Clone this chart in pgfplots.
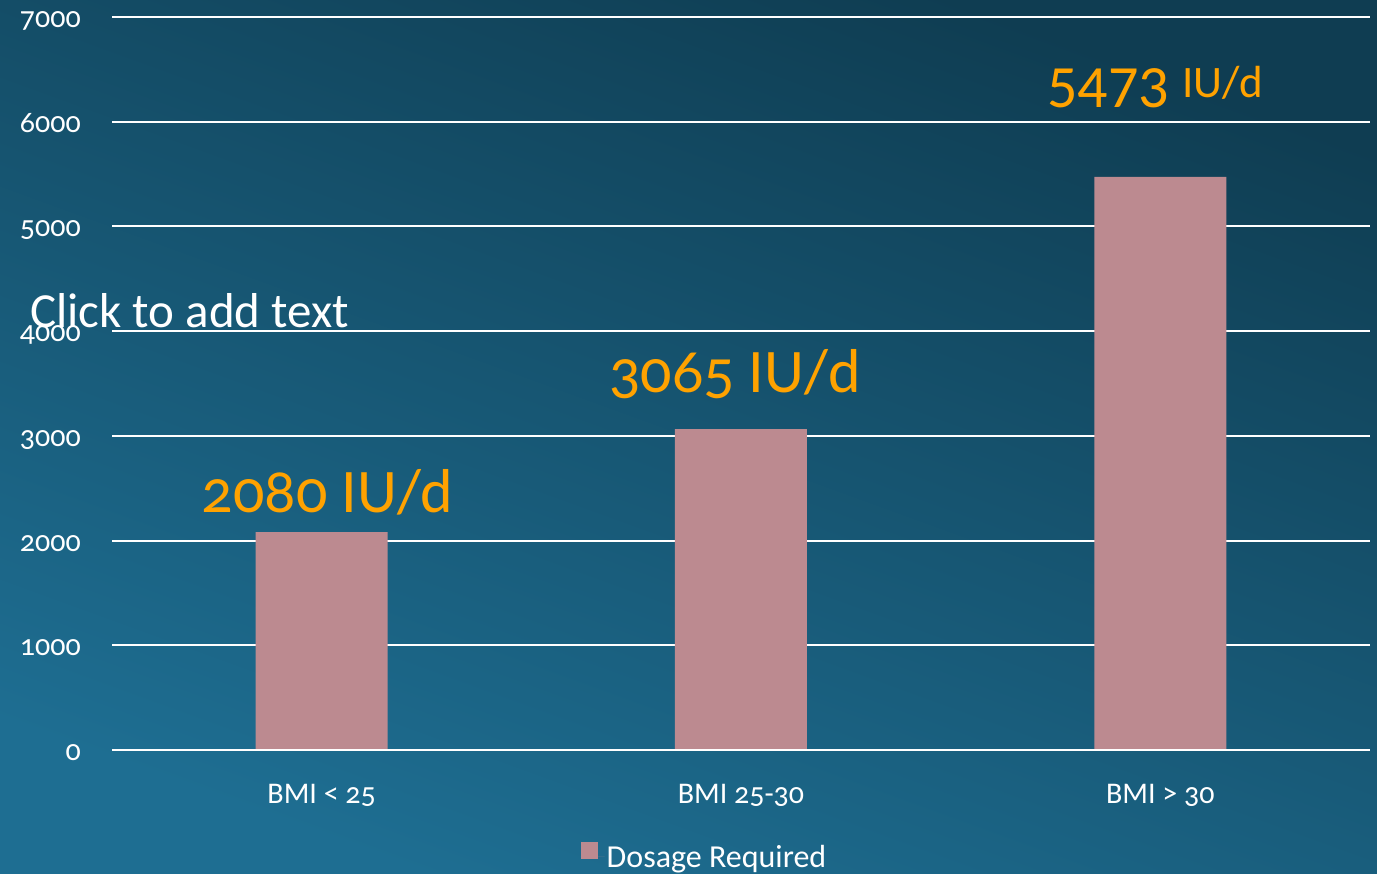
\documentclass[border=0pt]{standalone}
\usepackage{pgfplots}
\pgfplotsset{compat=1.18}
\usepackage{fontspec}
\setmainfont[Numbers=OldStyle]{Carlito}
\newfontfamily\liningfont[Numbers=Lining]{Carlito}

\definecolor{bgtop}{HTML}{0F3D52}
\definecolor{bgbottom}{HTML}{1E6E92}
\definecolor{barfill}{HTML}{BC8A90}
\definecolor{labelorange}{HTML}{FFA200}

\begin{document}
\begin{tikzpicture}
% slide background
\shade[top color=bgtop, bottom color=bgbottom, shading angle=-20]
  (0,0) rectangle (1377pt,874pt);

\begin{axis}[
  at={(112pt,124pt)}, anchor=south west,
  scale only axis, width=1258pt, height=733pt,
  ybar, bar width=132pt,
  xmin=-0.5, xmax=2.5,
  ymin=0, ymax=7000,
  ytick={0,1000,...,7000},
  xtick={0,1,2},
  xticklabels={BMI < 25, BMI 25-30, BMI > 30},
  axis line style={draw=none},
  ymajorgrids,
  grid style={white, line width=2pt},
  major tick length=0pt,
  scaled y ticks=false,
  /pgf/number format/assume math mode=true,
  yticklabel={\pgfmathprintnumber[fixed,1000 sep={}]{\tick}},
  yticklabel style={font=\fontsize{30}{30}\selectfont, text=white, anchor=base east, inner sep=0pt, xshift=-31pt, yshift=-10.5pt},
  xticklabel style={font=\fontsize{30}{30}\selectfont, text=white, anchor=base, inner sep=0pt, yshift=-54pt},
  legend style={at={(0.471,-0.145)}, anchor=center, draw=none, fill=none,
    text=white, font=\fontsize{32}{32}\selectfont, inner sep=0pt},
  legend image code/.code={\fill[barfill] (0pt,-2pt) rectangle (17pt,15pt);
    \path (0pt,0pt) -- (24pt,0pt);},
  clip=false,
]
\addplot[fill=barfill, draw=none] coordinates {(0,2080) (1,3065) (2,5473)};
\addlegendentry{Dosage Required}

\draw[white, line width=2pt] (axis cs:-0.5,0) -- (axis cs:2.5,0);

\node[anchor=base, text=labelorange, inner sep=0pt, yshift=20pt, xshift=6pt,
  font=\fontsize{62}{62}\selectfont] at (axis cs:0,2080) {2080 IU/d};
\node[anchor=base, text=labelorange, inner sep=0pt, yshift=37pt, xshift=-6pt,
  font=\fontsize{62}{62}\selectfont] at (axis cs:1,3065) {3065 IU/d};
\node[anchor=base, text=labelorange, inner sep=0pt, yshift=69pt, xshift=-5pt]
  at (axis cs:2,5473) {{\liningfont\fontsize{60}{60}\selectfont 5473}\hspace{13pt}\raisebox{10pt}{\fontsize{45}{45}\selectfont IU/d}};
\end{axis}

\node[anchor=base west, text=white, inner sep=0pt, font=\fontsize{49}{49}\selectfont]
  at (30pt,546pt) {Click to add text};

\pgfresetboundingbox
\useasboundingbox (0,0) rectangle (1377pt,874pt);
\end{tikzpicture}
\end{document}
